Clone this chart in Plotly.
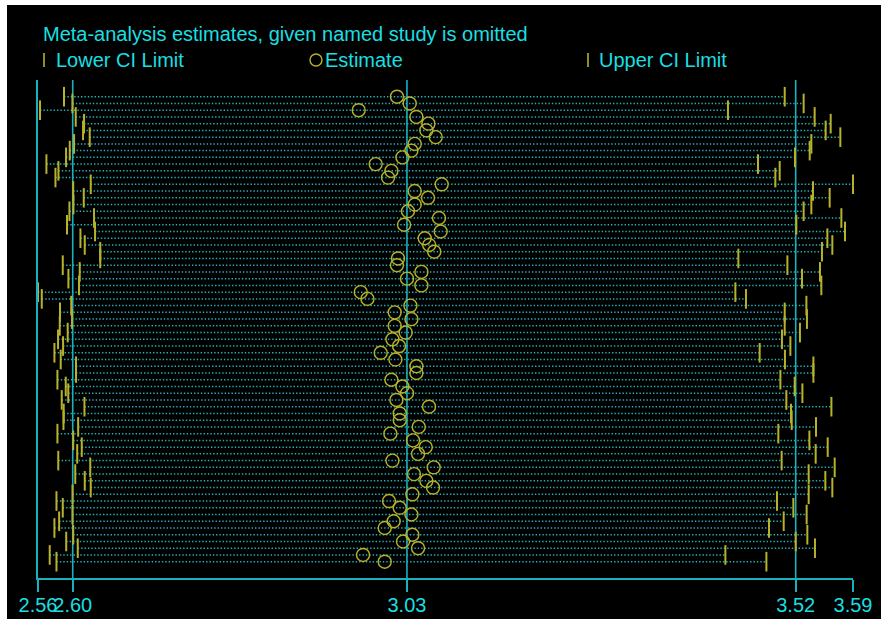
import plotly.graph_objects as go

# Leave-one-out meta-analysis: pooled estimate with each study omitted in turn
study = list(range(1, 71))

estimate = [
    3.0126, 3.0288, 2.9639, 3.0373, 3.0526, 3.0500, 3.0619, 3.0352, 3.0310, 3.0195,
    2.9855, 3.0055, 3.0012, 3.0695, 3.0352, 3.0521, 3.0352, 3.0266, 3.0661, 3.0216,
    3.0682, 3.0479, 3.0536, 3.0600, 3.0139, 3.0126, 3.0437, 3.0254, 3.0437, 2.9665,
    2.9750, 3.0297, 3.0097, 3.0310, 3.0097, 3.0237, 3.0068, 3.0152, 2.9919, 3.0106,
    3.0373, 3.0373, 3.0055, 3.0195, 3.0254, 3.0119, 3.0534, 3.0161, 3.0161, 3.0403,
    3.0042, 3.0330, 3.0492, 3.0394, 3.0068, 3.0593, 3.0343, 3.0500, 3.0585, 3.0322,
    3.0025, 3.0161, 3.0310, 3.0084, 2.9970, 3.0322, 3.0203, 3.0394, 2.9694, 2.9970,
]

lower_ci = [
    2.5889, 2.5996, 2.5584, 2.6038, 2.6144, 2.6131, 2.6216, 2.6017, 2.5962, 2.5915,
    2.5665, 2.5818, 2.5780, 2.6229, 2.6006, 2.6140, 2.6009, 2.5958, 2.6271, 2.5927,
    2.6284, 2.6098, 2.6153, 2.6350, 2.6350, 2.5873, 2.6089, 2.5945, 2.6080, 2.5558,
    2.5606, 2.5981, 2.5838, 2.5991, 2.5835, 2.5936, 2.5813, 2.5877, 2.5767, 2.5847,
    2.6042, 2.6042, 2.5805, 2.5911, 2.5943, 2.5860, 2.6149, 2.5885, 2.5882, 2.6069,
    2.5805, 2.6006, 2.6115, 2.6057, 2.5816, 2.6223, 2.6032, 2.6153, 2.6229, 2.5997,
    2.5793, 2.5873, 2.5996, 2.5827, 2.5767, 2.6006, 2.5917, 2.6064, 2.5707, 2.5793,
]

upper_ci = [
    3.5060, 3.5301, 3.4338, 3.5441, 3.5645, 3.5581, 3.5768, 3.5399, 3.5378, 3.5191,
    3.4720, 3.4996, 3.4941, 3.5929, 3.5420, 3.5632, 3.5399, 3.5301, 3.5781, 3.5208,
    3.5827, 3.5603, 3.5666, 3.5534, 3.4470, 3.5094, 3.5509, 3.5280, 3.5526, 3.4432,
    3.4567, 3.5336, 3.5060, 3.5343, 3.5060, 3.5254, 3.5025, 3.5132, 3.4741, 3.5063,
    3.5425, 3.5425, 3.5005, 3.5187, 3.5285, 3.5081, 3.5654, 3.5140, 3.5149, 3.5458,
    3.4979, 3.5374, 3.5607, 3.5454, 3.5021, 3.5696, 3.5365, 3.5577, 3.5666, 3.5365,
    3.4962, 3.5170, 3.5339, 3.5047, 3.4860, 3.5348, 3.5200, 3.5445, 3.4305, 3.4827,
]

# Pooled result using all studies
overall_est = 3.0253
overall_lo = 2.6000
overall_hi = 3.5200

title_text = "Meta-analysis estimates, given named study is omitted"
legend_labels = ["Lower CI Limit", "Estimate", "Upper CI Limit"]

CYAN_LINE = "#17b2bd"
CYAN_TEXT = "#19dfe0"
DOT_CYAN = "#22b0b8"
YELLOW = "#b7b22a"
FONT = "Liberation Sans, Arial, sans-serif"

W, H = 881, 619
ML, MR, MT, MB = 38, 28, 80, 41
PW, PH = W - ML - MR, H - MT - MB


def paper_x(px):
    return (px - ML) / PW


def paper_y(py):
    return (H - MB - py) / PH


x_min = min(lower_ci)
x_max = max(upper_ci)

fig = go.Figure()

# dotted connector from lower to upper limit for each omitted study
cx, cy = [], []
for s, lo, hi in zip(study, lower_ci, upper_ci):
    cx += [lo, hi, None]
    cy += [s, s, None]
fig.add_trace(go.Scatter(
    x=cx, y=cy, mode="lines",
    line=dict(color=DOT_CYAN, width=1.5, dash="1.4px,2px"),
    hoverinfo="skip", showlegend=False,
))

# CI limits as short vertical caps
for vals, name in ((lower_ci, legend_labels[0]), (upper_ci, legend_labels[2])):
    fig.add_trace(go.Scatter(
        x=vals, y=study, mode="markers", name=name,
        marker=dict(symbol="line-ns", size=14, line=dict(color=YELLOW, width=2)),
        cliponaxis=False, showlegend=False,
    ))

# point estimates
fig.add_trace(go.Scatter(
    x=estimate, y=study, mode="markers", name=legend_labels[1],
    marker=dict(symbol="circle-open", size=13, color=YELLOW, line=dict(color=YELLOW, width=1.4)),
    cliponaxis=False, showlegend=False,
))

# reference lines at the pooled estimate and its CI
shapes = []
for v in (overall_lo, overall_est, overall_hi):
    shapes.append(dict(type="line", xref="x", yref="paper", x0=v, x1=v, y0=0, y1=1,
                       line=dict(color=CYAN_LINE, width=1.6), layer="below"))

# white frame strips at the top-left edges of the image
shapes.append(dict(type="rect", xref="paper", yref="paper",
                   x0=paper_x(0), x1=paper_x(7), y0=paper_y(H), y1=paper_y(0),
                   fillcolor="white", line=dict(width=0), layer="above"))
shapes.append(dict(type="rect", xref="paper", yref="paper",
                   x0=paper_x(0), x1=paper_x(W), y0=paper_y(5), y1=paper_y(0),
                   fillcolor="white", line=dict(width=0), layer="above"))

# legend key symbols
for kx in (44, 588):
    shapes.append(dict(type="line", xref="paper", yref="paper",
                       x0=paper_x(kx), x1=paper_x(kx), y0=paper_y(53), y1=paper_y(67),
                       line=dict(color=YELLOW, width=1.6)))
shapes.append(dict(type="circle", xref="paper", yref="paper",
                   x0=paper_x(310), x1=paper_x(322), y0=paper_y(54), y1=paper_y(66),
                   line=dict(color=YELLOW, width=1.4)))

annotations = [
    dict(text=title_text, x=paper_x(41), y=paper_y(34), xref="paper", yref="paper",
         xanchor="left", yanchor="middle", showarrow=False,
         font=dict(family=FONT, size=20, color=CYAN_TEXT)),
]
for tx, label in zip((54, 323, 597), legend_labels):
    annotations.append(dict(text=label, x=paper_x(tx), y=paper_y(60), xref="paper", yref="paper",
                            xanchor="left", yanchor="middle", showarrow=False,
                            font=dict(family=FONT, size=20, color=CYAN_TEXT)))

tick_vals = [x_min, overall_lo, overall_est, overall_hi, x_max]
tick_text = [f"{v:.2f}" for v in tick_vals]

fig.update_layout(
    width=W, height=H, autosize=False,
    margin=dict(l=ML, r=MR, t=MT, b=MB, pad=0),
    paper_bgcolor="black", plot_bgcolor="black",
    shapes=shapes, annotations=annotations,
    xaxis=dict(range=[x_min, x_max], tickvals=tick_vals, ticktext=tick_text,
               tickangle=0, automargin=False, ticklabelstandoff=-4,
               ticks="outside", ticklen=12, tickwidth=1.6, tickcolor=CYAN_LINE,
               showline=True, linecolor=CYAN_LINE, linewidth=1.6,
               showgrid=False, zeroline=False,
               tickfont=dict(family=FONT, size=20, color=CYAN_TEXT)),
    yaxis=dict(range=[72.42, -1.48], showticklabels=False, ticks="",
               automargin=False,
               showline=True, linecolor=CYAN_LINE, linewidth=1.6,
               showgrid=False, zeroline=False),
    showlegend=False,
)

fig.write_html("out.html")
